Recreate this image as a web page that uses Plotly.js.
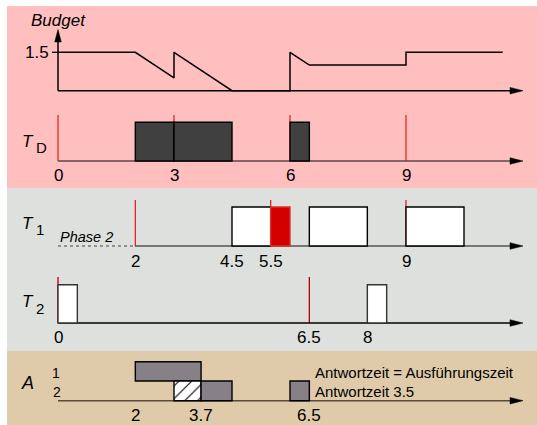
<!DOCTYPE html>
<html><head><meta charset="utf-8">
<script src="https://cdn.plot.ly/plotly-3.0.1.min.js"></script>
<style>html,body{margin:0;padding:0;background:#fff}#chart{width:537px;height:425px}</style>
</head><body><div id="chart"></div>
<script>
// ---- data (time units) ----
const budgetTime  = [0, 2, 3, 3, 4.5, 6, 6, 6.5, 9, 9, 11.5];
const budgetValue = [1.5, 1.5, 0.5, 1.5, 0, 0, 1.5, 1, 1, 1.5, 1.5];
const budgetTicks = [1.5];

const tdReleases  = [0, 3, 6, 9];
const tdRunStart  = [2, 3, 6];
const tdRunEnd    = [3, 4.5, 6.5];
const tdTickLabels = [0, 3, 6, 9];

const t1Releases  = [2, 5.5, 9];
const t1RunStart  = [4.5, 6.5, 9];
const t1RunEnd    = [5.5, 8, 10.5];
const t1OverStart = [5.5];
const t1OverEnd   = [6];
const t1TickLabels = [2, 4.5, 5.5, 9];

const t2Releases  = [0, 6.5];
const t2RunStart  = [0, 8];
const t2RunEnd    = [0.5, 8.5];
const t2TickLabels = [0, 6.5, 8];

const aJob1Start  = [2];
const aJob1End    = [3.7];
const aWaitStart  = [3];
const aWaitEnd    = [3.7];
const aJob2Start  = [3.7, 6];
const aJob2End    = [4.5, 6.5];
const aTickLabels = [2, 3.7, 6.5];

const legendTexts = ['Antwortzeit = Ausführungszeit', 'Antwortzeit 3.5'];

// ---- layout helpers (pixel geometry) ----
const W = 537, H = 425, X0 = 58, K = 38.667, BY = 90.7, BS = 25.6;
const px = p => (p - X0) / K;
const FONT = 'Liberation Sans, Arial, Helvetica, sans-serif';
const shapes = [], annotations = [], traces = [];

function bg(y0, y1, color) {
  shapes.push({type:'rect', xref:'paper', yref:'paper', x0:7/W, x1:1, y0:1-y1/H, y1:1-y0/H,
    fillcolor:color, line:{width:0}, layer:'below'});
}
function hline(x0p, x1p, y, color, width, dash) {
  shapes.push({type:'line', xref:'x', yref:'y2', x0:px(x0p), x1:px(x1p), y0:y, y1:y,
    line:{color:color, width:width, dash:dash || 'solid'}, layer:'below'});
}
function arrowR(x0p, y, color) {
  hline(x0p, 512, y, color, 1.5);
  shapes.push({type:'path', xref:'x', yref:'y2',
    path:`M ${px(523)} ${y} L ${px(510)} ${y-3.3} L ${px(510)} ${y+3.3} Z`,
    fillcolor:'#000', line:{color:'#000', width:0.5}, layer:'below'});
}
function releases(times, yTop, yBot, color) {
  times.forEach(t => shapes.push({type:'line', xref:'x', yref:'y2', x0:t, x1:t, y0:yTop, y1:yBot,
    line:{color:color, width:1.3}, layer:'below'}));
}
function bars(starts, ends, yTop, yBot, fill, lineColor, pattern) {
  const m = {color:fill, line:{color:lineColor, width:1.4}};
  if (pattern) m.pattern = pattern;
  traces.push({type:'bar', orientation:'h', xaxis:'x', yaxis:'y2',
    y: starts.map(() => (yTop + yBot) / 2), base: starts,
    x: starts.map((s, i) => ends[i] - s), width: yBot - yTop,
    marker:m, opacity:1, hoverinfo:'skip', showlegend:false});
}
function ticks(values, y) {
  values.forEach(v => annotations.push({xref:'x', yref:'y2', x:v, y:y, text:String(v),
    showarrow:false, xanchor:'center', yanchor:'middle', font:{family:FONT, size:17, color:'#000'}}));
}
function label(text, xp, y, size, anchor) {
  annotations.push({xref:'x', yref:'y2', x:px(xp), y:y, text:text, showarrow:false,
    xanchor:anchor || 'center', yanchor:'middle', borderpad:0,
    font:{family:FONT, size:size, color:'#000'}});
}
function taskLabel(sub, y) {
  label('<i>T</i>', 35, y - 4, 17, 'right');
  label(sub, 34.5, y + 2.5, 15, 'left');
}

// backgrounds
bg(6, 188, '#ffbfbf');
bg(188, 351, '#dde0dc');
bg(351, 425, '#dfcba9');

// Budget panel
traces.push({type:'scatter', mode:'lines', x:budgetTime, y:budgetValue, xaxis:'x', yaxis:'y',
  line:{color:'#000', width:1.5}, hoverinfo:'skip', showlegend:false});
arrowR(58, BY, '#000');
shapes.push({type:'line', xref:'x', yref:'y2', x0:0, x1:0, y0:BY, y1:41, line:{color:'#000', width:1.5}, layer:'below'});
shapes.push({type:'path', xref:'x', yref:'y2',
  path:`M ${px(58)} 29.5 L ${px(54.7)} 42 L ${px(61.3)} 42 Z`, fillcolor:'#000', line:{color:'#000', width:0.5}, layer:'below'});
budgetTicks.forEach(v => {
  shapes.push({type:'line', xref:'x', yref:'y', x0:px(52), x1:0, y0:v, y1:v, line:{color:'#000', width:1.3}});
  annotations.push({xref:'x', yref:'y', x:px(51), y:v, text:String(v), showarrow:false,
    xanchor:'right', yanchor:'middle', font:{family:FONT, size:17, color:'#000'}});
});
label('<i>Budget</i>', 30, 20, 17, 'left');

// T_D panel
releases(tdReleases, 115, 161, '#e8282c');
arrowR(58, 161, '#5a4848');
bars(tdRunStart, tdRunEnd, 122.3, 161, '#404040', '#000');
ticks(tdTickLabels, 175);
taskLabel('D', 145);

// T1 panel
releases(t1Releases, 200, 246, '#e02028');
hline(58, 135, 246, '#444', 1.2, 'dot');
arrowR(135, 246, '#555');
bars(t1RunStart, t1RunEnd, 207, 246, '#ffffff', '#000');
bars(t1OverStart, t1OverEnd, 207, 246, '#d40000', '#d83030');
ticks(t1TickLabels, 261);
label('<i>Phase 2</i>', 59, 236.5, 14.5, 'left');
taskLabel('1', 227);

// T2 panel
releases(t2Releases, 277, 323, '#b00000');
arrowR(58, 323, '#000');
bars(t2RunStart, t2RunEnd, 284.7, 323, '#ffffff', '#333');
ticks(t2TickLabels, 337);
taskLabel('2', 305.5);

// A panel
arrowR(58, 400.7, '#5a4a3a');
bars(aJob1Start, aJob1End, 361.7, 381, '#878087', '#000');
bars(aWaitStart, aWaitEnd, 381, 400.7, '#ffffff', '#000',
  {shape:'/', fgcolor:'#000', bgcolor:'#ffffff', size:9, solidity:0.12});
bars(aJob2Start, aJob2End, 381, 400.7, '#878087', '#000');
ticks(aTickLabels, 415);
label('<i>A</i>', 27.5, 382.5, 18);
label('1', 56.3, 373, 14);
label('2', 57.3, 392, 14);
label(legendTexts[0], 314, 372.7, 15, 'left');
label(legendTexts[1], 314, 391.7, 15, 'left');

const layout = {
  width:W, height:H, margin:{l:0, r:0, t:0, b:0},
  paper_bgcolor:'#ffffff', plot_bgcolor:'rgba(0,0,0,0)',
  showlegend:false, hovermode:false, barmode:'overlay',
  xaxis:{range:[px(0), px(W)], visible:false, fixedrange:true},
  yaxis:{range:[(BY - H) / BS, BY / BS], visible:false, fixedrange:true},
  yaxis2:{range:[H, 0], overlaying:'y', anchor:'x', visible:false, fixedrange:true},
  shapes:shapes, annotations:annotations
};
Plotly.newPlot('chart', traces, layout, {staticPlot:true, displayModeBar:false});
</script></body></html>
